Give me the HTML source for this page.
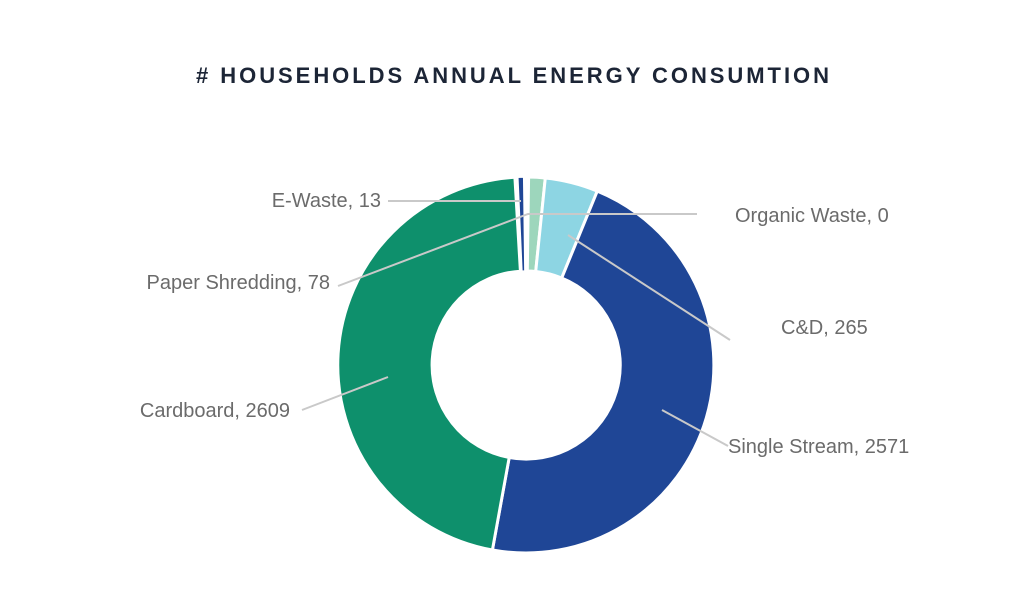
<!DOCTYPE html>
<html><head><meta charset="utf-8"><style>
body{margin:0;background:#fff}
svg{display:block}
.l{font-family:"Liberation Sans",sans-serif;font-size:20px;fill:#6b6b6b}
</style></head><body>
<svg width="1024" height="616" viewBox="0 0 1024 616">
<text x="196" y="83" textLength="633" lengthAdjust="spacing" style="font-family:'Liberation Sans',sans-serif;font-size:22px;font-weight:bold;fill:#1c2536"># HOUSEHOLDS ANNUAL ENERGY CONSUMTION</text>
<g stroke="#fff" stroke-width="3" stroke-linejoin="miter">
<path d="M528.6,177 A188,188 0 0 1 545.3,178 L535.7,271.5 A94,94 0 0 0 527.3,271 Z" fill="#9dd6bc"/>
<path d="M545.3,178 A188,188 0 0 1 597.3,191.1 L561.7,278 A94,94 0 0 0 535.7,271.5 Z" fill="#8dd5e3"/>
<path d="M597.3,191.1 A188,188 0 0 1 492.4,550 L509.2,457.5 A94,94 0 0 0 561.7,278 Z" fill="#1f4696"/>
<path d="M492.4,550 A188,188 0 0 1 514.9,177.3 L520.4,271.2 A94,94 0 0 0 509.2,457.5 Z" fill="#0e906c"/>
<path d="M517.8,177.2 A188,188 0 0 1 523.7,177 L524.9,271 A94,94 0 0 0 521.9,271.1 Z" fill="#1f4696" stroke-width="1.5"/>
</g>
<g stroke="#c9c9c9" stroke-width="2" fill="none">
<line x1="388" y1="201" x2="521" y2="201"/>
<polyline points="338,286 528,214 697,214"/>
<line x1="568" y1="235" x2="730" y2="340"/>
<line x1="662" y1="410" x2="728" y2="446"/>
<line x1="302" y1="410" x2="388" y2="377"/>
</g>
<text class="l" x="381" y="207" text-anchor="end">E-Waste, 13</text>
<text class="l" x="735" y="222">Organic Waste, 0</text>
<text class="l" x="330" y="289" text-anchor="end">Paper Shredding, 78</text>
<text class="l" x="781" y="334">C&amp;D, 265</text>
<text class="l" x="290" y="417" text-anchor="end">Cardboard, 2609</text>
<text class="l" x="728" y="453">Single Stream, 2571</text>
</svg>
</body></html>
